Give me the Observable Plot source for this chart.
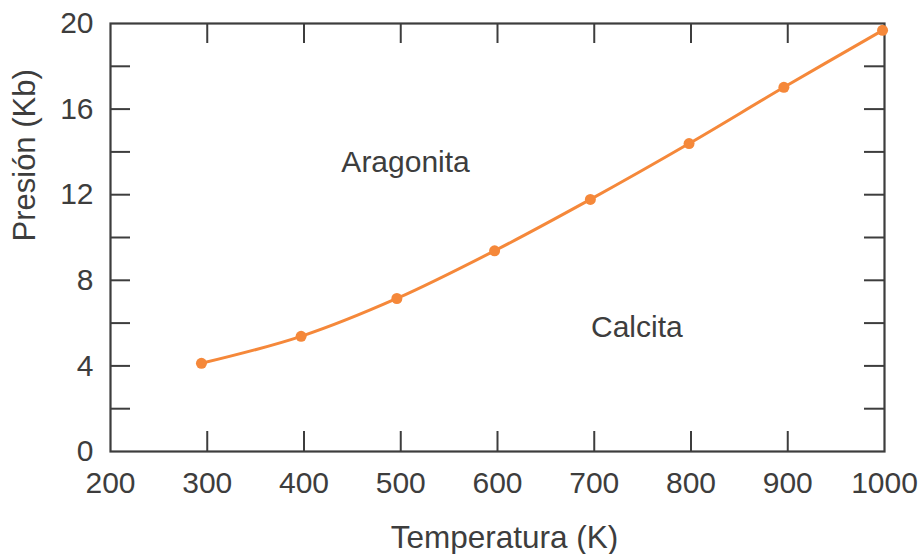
<!DOCTYPE html>
<html>
<head>
<meta charset="utf-8">
<script src="https://cdn.jsdelivr.net/npm/d3@7"></script>
<script src="https://cdn.jsdelivr.net/npm/@observablehq/plot@0.6"></script>
<style>
  html, body { margin: 0; padding: 0; background: #fff; }
</style>
</head>
<body>
<div id="chart"></div>
<script>
// Data
const temperature = [294, 397, 496, 597, 696, 798, 896, 998];
const pressure = [4.12, 5.38, 7.15, 9.38, 11.78, 14.39, 17.02, 19.68];

const xTickValues = [200, 300, 400, 500, 600, 700, 800, 900, 1000];
const yLabelValues = [0, 4, 8, 12, 16, 20];
const yMinorValues = [2, 4, 6, 8, 10, 12, 14, 16, 18];
const xInnerTicks = [300, 400, 500, 600, 700, 800, 900];

const regionLabels = ["Aragonita", "Calcita"];
const regionX = [505, 744];
const regionY = [13.5, 5.8];

const xTitle = "Temperatura (K)";
const yTitle = "Presión (Kb)";

const points = temperature.map((t, i) => ({t, p: pressure[i]}));
const regions = regionLabels.map((name, i) => ({name, x: regionX[i], y: regionY[i]}));

const W = 921, H = 554;
const mL = 110, mR = 37, mT = 23, mB = 103;
const innerW = W - mL - mR, innerH = H - mT - mB;
const tickLen = 20;
const ink = "#3d3d3d";
const orange = "#F5883A";

const chart = Plot.plot({
  width: W,
  height: H,
  marginLeft: mL,
  marginRight: mR,
  marginTop: mT,
  marginBottom: mB,
  style: {fontFamily: "'Liberation Sans', Arial, sans-serif", fontSize: "30px", color: ink, background: "#fff"},
  x: {domain: [200, 1000]},
  y: {domain: [0, 20]},
  marks: [
    Plot.axisX({ticks: xTickValues, tickSize: 0, tickPadding: 20, label: null, tickFormat: d => String(d)}),
    Plot.axisY({ticks: yLabelValues, tickSize: 0, tickPadding: 17, label: null, tickFormat: d => String(d)}),
    // inward ticks
    Plot.ruleX(xInnerTicks, {x: d => d, insetTop: innerH - tickLen, stroke: ink, strokeWidth: 2}),
    Plot.ruleX(xInnerTicks, {x: d => d, insetBottom: innerH - tickLen, stroke: ink, strokeWidth: 2}),
    Plot.ruleY(yMinorValues, {y: d => d, insetRight: innerW - tickLen, stroke: ink, strokeWidth: 2}),
    Plot.ruleY(yMinorValues, {y: d => d, insetLeft: innerW - tickLen, stroke: ink, strokeWidth: 2}),
    Plot.frame({stroke: ink, strokeWidth: 2.2}),
    Plot.line(points, {x: "t", y: "p", curve: "catmull-rom", stroke: orange, strokeWidth: 3}),
    Plot.dot(points, {x: "t", y: "p", r: 5.5, fill: orange, stroke: "none"}),
    Plot.text(regions, {x: "x", y: "y", text: "name", fill: ink, fontSize: 30, textAnchor: "middle", lineAnchor: "middle"}),
    Plot.text([xTitle], {text: d => d, frameAnchor: "bottom", lineAnchor: "middle", dy: 86, dx: 7, fill: ink, fontSize: 31.5}),
    Plot.text([yTitle], {text: d => d, frameAnchor: "left", rotate: -90, lineAnchor: "middle", dx: -85, dy: 4, fill: ink, fontSize: 31})
  ]
});

document.getElementById("chart").appendChild(chart);
</script>
</body>
</html>
